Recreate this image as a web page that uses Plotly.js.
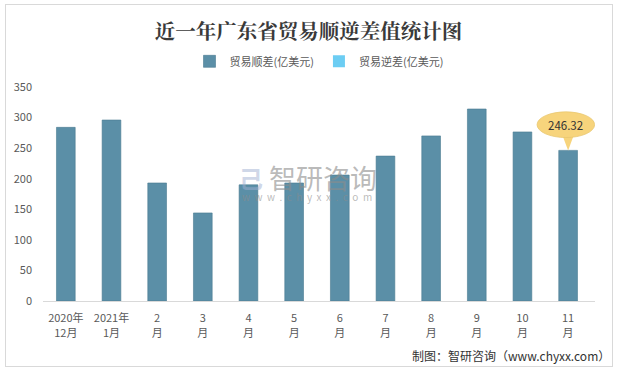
<!DOCTYPE html>
<html>
<head>
<meta charset="utf-8">
<script src="https://cdn.plot.ly/plotly-3.0.1.min.js"></script>
<style>
html,body{margin:0;padding:0;background:#fff;}
#wrap{position:relative;width:617px;height:370px;}
#chart{width:617px;height:370px;}
#frame{position:absolute;left:5px;top:4px;width:606px;height:361px;border:1px solid #d9d9d9;pointer-events:none;}
</style>
</head>
<body>
<div id="wrap"><div id="chart"></div><div id="frame"></div></div>
<script>
const categories = ["2020年<br>12月","2021年<br>1月","2<br>月","3<br>月","4<br>月","5<br>月","6<br>月","7<br>月","8<br>月","9<br>月","10<br>月","11<br>月"];
const surplus = [284, 296, 193, 144, 190, 193, 206, 237, 270, 314, 276.5, 246.32];
const deficit = [null, null, null, null, null, null, null, null, null, null, null, null];
const yTicks = [0, 50, 100, 150, 200, 250, 300, 350];
const seriesNames = ["贸易顺差(亿美元)", "贸易逆差(亿美元)"];
const calloutText = "246.32";

const lastIdx = surplus.length - 1;
const lastVal = surplus[lastIdx];

const traces = [
  {type:'bar', name:seriesNames[0], x:categories, y:surplus,
   marker:{color:'#5b8fa7', line:{color:'#4a7a91', width:0.6}}, hoverinfo:'y'},
  {type:'bar', name:seriesNames[1], x:categories, y:deficit,
   marker:{color:'#6ccdf3'}, hoverinfo:'y'}
];

const layout = {
  width:617, height:370,
  margin:{l:43, r:22, t:87, b:68.5},
  paper_bgcolor:'#fff', plot_bgcolor:'#fff',
  font:{family:'"Microsoft YaHei","Noto Sans CJK SC",sans-serif', size:11, color:'#595959'},
  title:{text:'近一年广东省贸易顺逆差值统计图', x:0.5, xanchor:'center', y:0.913, yanchor:'middle',
         font:{family:'"Noto Serif CJK SC","Noto Sans CJK SC",serif', size:20.5, color:'#3a3a3a', weight:'bold'}},
  barmode:'overlay', bargap:0.59,
  showlegend:true,
  legend:{orientation:'h', x:0.5, xanchor:'center', y:1.12, yanchor:'middle',
          font:{size:11, color:'#595959'}, itemwidth:30, traceorder:'normal'},
  xaxis:{type:'category', tickfont:{size:11, color:'#595959'}, showline:true, linecolor:'#d9d9d9', linewidth:1,
         ticks:'', showgrid:false, zeroline:false, fixedrange:true, ticklabelstandoff:7},
  yaxis:{range:[0,350], tickvals:yTicks, ticktext:yTicks.map(String), showgrid:false, zeroline:false,
         showline:false, ticks:'', ticklen:0, tickfont:{size:11, color:'#595959'}, fixedrange:true, ticklabelstandoff:10},
  shapes:[
    {type:'path', xref:'x', yref:'y',
     path:'M '+(lastIdx-0.12)+' '+(lastVal+24)+' L '+(lastIdx)+' '+lastVal+' L '+(lastIdx+0.12)+' '+(lastVal+24)+' Z',
     fillcolor:'#f7d47c', line:{width:0}},
    {type:'circle', xref:'x', yref:'y', x0:lastIdx-0.68, x1:lastIdx+0.58, y0:lastVal+21, y1:lastVal+63,
     fillcolor:'#f7d47c', line:{color:'#e8c66e', width:0.8}}
  ],
  annotations:[
    {xref:'x', yref:'y', x:lastIdx-0.05, y:lastVal+42, text:calloutText, showarrow:false,
     font:{size:11.5, color:'#333'}},
    {xref:'paper', yref:'paper', x:0.405, y:0.576, text:'智研咨询', showarrow:false, xanchor:'left', yanchor:'middle',
     font:{size:27, color:'rgba(140,140,140,0.6)'}},
    {xref:'paper', yref:'paper', x:0.357, y:0.487, text:'w  w  w  .  c  h  y  x  x  .  c  o  m', showarrow:false, xanchor:'left', yanchor:'middle',
     font:{size:10, color:'rgba(140,140,140,0.6)'}},
    {xref:'paper', yref:'paper', x:0.352, y:0.576, text:'<b>己</b>', showarrow:false, xanchor:'left', yanchor:'middle',
     font:{size:24, color:'rgba(160,175,210,0.5)'}},
    {xref:'paper', yref:'paper', x:1.031, y:-0.254, text:'制图：智研咨询（www.chyxx.com）', showarrow:false, xanchor:'right', yanchor:'middle',
     font:{size:12, color:'#333', family:'"Noto Sans CJK SC",sans-serif'}}
  ]
};

Plotly.newPlot('chart', traces, layout, {displayModeBar:false, staticPlot:true});
</script>
</body>
</html>
